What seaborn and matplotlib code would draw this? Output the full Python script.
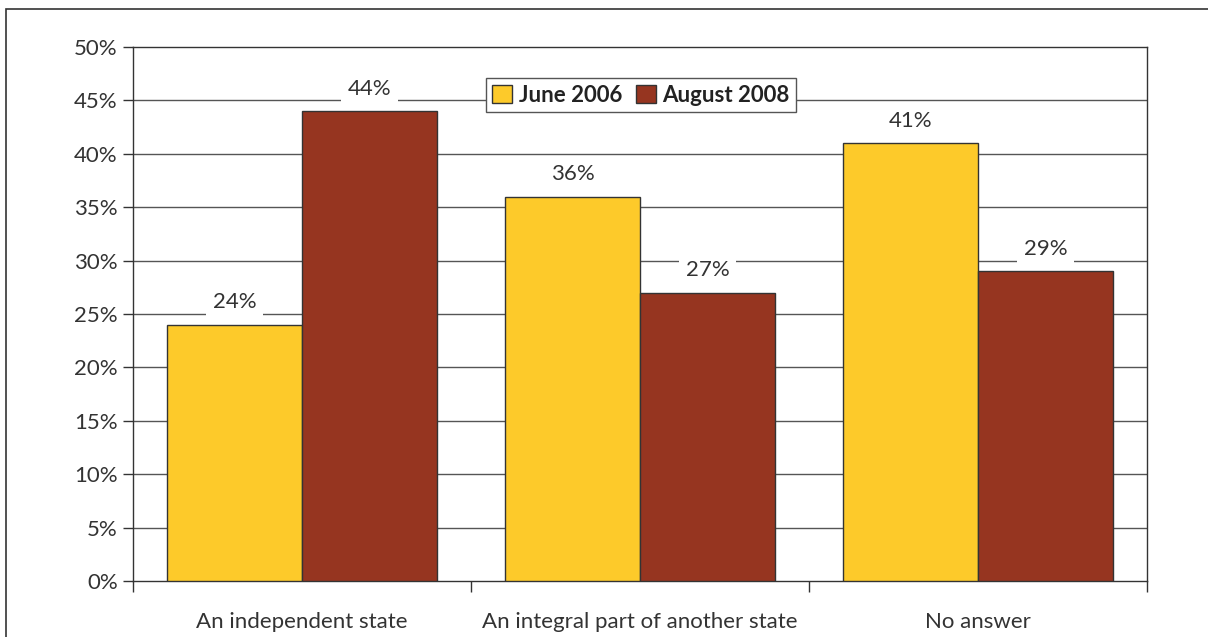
import matplotlib
matplotlib.use("Agg")
import matplotlib.pyplot as plt
import seaborn as sns
import pandas as pd
from matplotlib.ticker import FuncFormatter, FixedLocator
from matplotlib.patches import Rectangle

categories = ["An independent state", "An integral part of another state", "No answer"]
june_2006 = [24, 36, 41]
august_2008 = [44, 27, 29]
series_names = ["June 2006", "August 2008"]
y_ticks = [0, 5, 10, 15, 20, 25, 30, 35, 40, 45, 50]

df = pd.DataFrame({
    "category": categories * 2,
    "value": june_2006 + august_2008,
    "period": [series_names[0]] * 3 + [series_names[1]] * 3,
})

sns.set_style("white")
plt.rcParams["font.family"] = ["Lato", "DejaVu Sans"]
text_color = "#333333"

fig = plt.figure(figsize=(12.08, 6.37), dpi=100)
ax = fig.add_axes([133 / 1208, 1 - 581 / 637, (1147 - 133) / 1208, (581 - 47) / 637])

sns.barplot(data=df, x="category", y="value", hue="period", ax=ax,
            palette=["#FDCA2A", "#963520"], edgecolor="#333333", linewidth=1.0,
            width=0.8, gap=0, saturation=1, legend=True, zorder=3)

ax.set_ylim(0, 50)
ax.set_xlim(-0.5, 2.5)
ax.yaxis.set_major_locator(FixedLocator(y_ticks))
ax.yaxis.set_major_formatter(FuncFormatter(lambda v, p: f"{int(v)}%"))
ax.set_xlabel("")
ax.set_ylabel("")

for y in y_ticks[1:-1]:
    ax.axhline(y, color="#555555", lw=1.0, zorder=1)

for cont in ax.containers:
    ax.bar_label(cont, labels=[f"{int(v)}%" for v in cont.datavalues], padding=9,
                 fontsize=16, color=text_color, zorder=4,
                 bbox=dict(facecolor="white", edgecolor="none", pad=5))

for s in ax.spines.values():
    s.set_color("#333333")
    s.set_linewidth(1.0)

ax.tick_params(axis="y", direction="out", length=7, width=1, color="#333333",
               labelsize=16, labelcolor=text_color, left=True, pad=4)
ax.tick_params(axis="x", which="major", length=0, labelsize=16, labelcolor=text_color, pad=22)
ax.set_xticks([-0.5, 0.5, 1.5, 2.5], minor=True)
ax.tick_params(axis="x", which="minor", direction="out", length=8, width=1, color="#333333", bottom=True)

leg = ax.legend(loc="center", bbox_to_anchor=(0.501, 0.910), ncol=2, frameon=True,
                fancybox=False, edgecolor="#555555", framealpha=1,
                prop={"weight": "bold", "size": 16}, handlelength=0.9, handleheight=0.9,
                handletextpad=0.3, columnspacing=0.6, borderpad=0.3, borderaxespad=0)
for t in leg.get_texts():
    t.set_color("#222222")
leg.set_zorder(5)

fig.patches.append(Rectangle((6 / 1208, -0.2), 2, 1.2 - 9 / 637, transform=fig.transFigure,
                             fill=False, edgecolor="#333333", lw=1.2, clip_on=False))

fig.savefig("out.png", dpi=100)
